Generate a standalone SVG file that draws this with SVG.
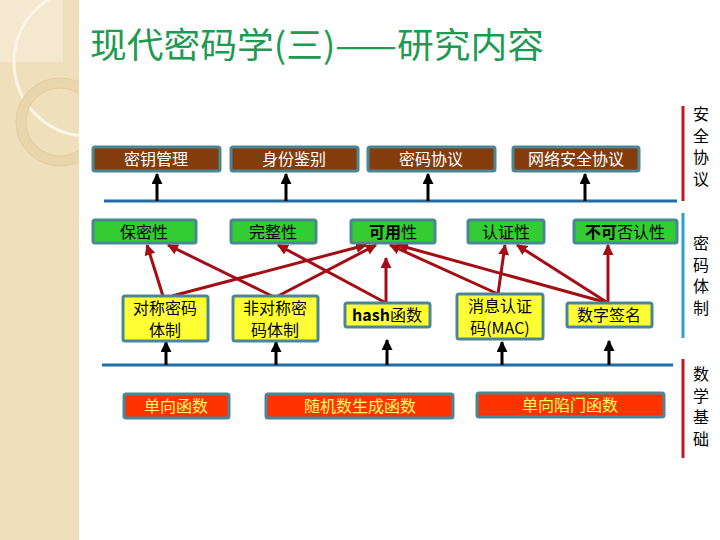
<svg xmlns="http://www.w3.org/2000/svg" width="720" height="540" viewBox="0 0 720 540">
<style>
.t{font-family:"Noto Sans CJK SC","Liberation Sans",sans-serif;font-size:16px;text-anchor:middle}
.box{stroke:#4a8796;stroke-width:3}
.br{fill:#843c0c}
.gr{fill:#33cc33}
.ye{fill:#ffff33}
.rd{fill:#ff3300}
.bl{stroke:#1f6fa6;stroke-width:3;fill:none}
.ka{stroke:#000;stroke-width:3;fill:none;marker-end:url(#ka)}
.ra{stroke:#a50d14;stroke-width:3;fill:none;marker-end:url(#ra)}
.side{font-family:"Noto Sans CJK SC","Liberation Sans",sans-serif;font-size:16px;fill:#000;writing-mode:vertical-rl;letter-spacing:5.5px}
</style>
<defs>
<marker id="ka" markerUnits="userSpaceOnUse" markerWidth="11" markerHeight="11" viewBox="0 0 10 10" refX="9" refY="5" orient="auto"><path d="M0,0 L10,5 L0,10 z" fill="#000"/></marker>
<marker id="ra" markerUnits="userSpaceOnUse" markerWidth="11" markerHeight="11" viewBox="0 0 10 10" refX="9" refY="5" orient="auto"><path d="M0,0 L10,5 L0,10 z" fill="#a50d14"/></marker>
<clipPath id="sc"><rect x="0" y="0" width="79" height="540"/></clipPath>
</defs>
<rect width="720" height="540" fill="#fff"/>
<g id="sidebar" clip-path="url(#sc)">
<rect x="0" y="0" width="79" height="540" fill="#efdfba"/>
<rect x="0" y="0" width="63" height="62" fill="#f4e9d0"/>
<circle cx="88" cy="62" r="74" fill="none" stroke="#fbf5e8" stroke-width="3"/>
<circle cx="60" cy="122" r="39" fill="none" stroke="#ead6ac" stroke-width="10"/>
<circle cx="60" cy="122" r="44" fill="none" stroke="#dcc496" stroke-width="0.7"/>
<circle cx="60" cy="122" r="34" fill="none" stroke="#dcc496" stroke-width="0.7"/>
</g>
<text x="90" y="58" font-family="Noto Sans CJK SC, Liberation Sans, sans-serif" font-size="35" fill="#1e9a52" textLength="454" lengthAdjust="spacingAndGlyphs">现代密码学(三)——研究内容</text>

<g id="connectors">
<line class="bl" x1="104" y1="201" x2="677" y2="201"/>
<line class="bl" x1="102" y1="365" x2="673" y2="365"/>
<line class="ka" x1="157" y1="201" x2="157" y2="174"/>
<line class="ka" x1="286" y1="201" x2="286" y2="174"/>
<line class="ka" x1="428" y1="201" x2="428" y2="174"/>
<line class="ka" x1="585" y1="201" x2="585" y2="174"/>
<line class="ka" x1="166" y1="365" x2="166" y2="342"/>
<line class="ka" x1="276" y1="365" x2="276" y2="342"/>
<line class="ka" x1="387" y1="365" x2="387" y2="340"/>
<line class="ka" x1="502" y1="365" x2="502" y2="342"/>
<line class="ka" x1="609" y1="365" x2="609" y2="341"/>
<line class="ra" x1="163" y1="296" x2="147" y2="245"/>
<line class="ra" x1="172" y1="296" x2="366" y2="245"/>
<line class="ra" x1="272" y1="296" x2="168" y2="245"/>
<line class="ra" x1="278" y1="296" x2="376" y2="245"/>
<line class="ra" x1="386" y1="303" x2="278" y2="245"/>
<line class="ra" x1="386" y1="303" x2="386" y2="258"/>
<line class="ra" x1="498" y1="294" x2="505" y2="245"/>
<line class="ra" x1="498" y1="294" x2="390" y2="245"/>
<line class="ra" x1="608" y1="303" x2="398" y2="245"/>
<line class="ra" x1="608" y1="303" x2="517" y2="245"/>
<line class="ra" x1="608" y1="303" x2="608" y2="245"/>
</g>

<g id="n-keymgmt"><rect class="box br" x="93" y="147" width="127" height="24" rx="2"/><text class="t" x="156" y="165" fill="#fff">密钥管理</text></g>
<g id="n-identity"><rect class="box br" x="231" y="147" width="127" height="24" rx="2"/><text class="t" x="294" y="165" fill="#fff">身份鉴别</text></g>
<g id="n-cryptoproto"><rect class="box br" x="368" y="147" width="127" height="24" rx="2"/><text class="t" x="431" y="165" fill="#fff">密码协议</text></g>
<g id="n-netproto"><rect class="box br" x="513" y="147" width="126" height="24" rx="2"/><text class="t" x="576" y="165" fill="#fff">网络安全协议</text></g>

<g id="n-confid"><rect class="box gr" x="93" y="220" width="103" height="23" rx="2"/><text class="t" x="144" y="238">保密性</text></g>
<g id="n-integrity"><rect class="box gr" x="231" y="220" width="85" height="23" rx="2"/><text class="t" x="273" y="238">完整性</text></g>
<g id="n-avail"><rect class="box gr" x="351" y="220" width="84" height="23" rx="2"/><text class="t" x="393" y="238"><tspan font-weight="bold">可用</tspan>性</text></g>
<g id="n-auth"><rect class="box gr" x="468" y="220" width="76" height="23" rx="2"/><text class="t" x="506" y="238">认证性</text></g>
<g id="n-nonrep"><rect class="box gr" x="574" y="220" width="103" height="23" rx="2"/><text class="t" x="625" y="238"><tspan font-weight="bold">不可</tspan>否认性</text></g>

<g id="n-sym"><rect class="box ye" x="123" y="296" width="85" height="45" rx="2"/><text class="t" x="165" y="314">对称密码</text><text class="t" x="165" y="336">体制</text></g>
<g id="n-asym"><rect class="box ye" x="233" y="296" width="85" height="45" rx="2"/><text class="t" x="275" y="314">非对称密</text><text class="t" x="275" y="336">码体制</text></g>
<g id="n-hash"><rect class="box ye" x="345" y="303" width="85" height="24" rx="2"/><text class="t" x="387" y="321"><tspan font-weight="bold">hash</tspan>函数</text></g>
<g id="n-mac"><rect class="box ye" x="457" y="294" width="86" height="45" rx="2"/><text class="t" x="500" y="312">消息认证</text><text class="t" x="500" y="334">码(MAC)</text></g>
<g id="n-sig"><rect class="box ye" x="567" y="303" width="85" height="24" rx="2"/><text class="t" x="609" y="321">数字签名</text></g>

<g id="n-oneway"><rect class="box rd" x="124" y="394" width="105" height="24" rx="2"/><text class="t" x="176" y="412" fill="#ffff66">单向函数</text></g>
<g id="n-rng"><rect class="box rd" x="266" y="394" width="187" height="24" rx="2"/><text class="t" x="360" y="412" fill="#ffff66">随机数生成函数</text></g>
<g id="n-trapdoor"><rect class="box rd" x="477" y="393" width="187" height="24" rx="2"/><text class="t" x="570" y="411" fill="#ffff66">单向陷门函数</text></g>

<g id="side-labels">
<line x1="683" y1="106" x2="683" y2="201" stroke="#c01820" stroke-width="3"/>
<line x1="683" y1="213" x2="683" y2="338" stroke="#2a9fd0" stroke-width="3"/>
<line x1="683" y1="359" x2="683" y2="458" stroke="#c01820" stroke-width="3"/>
<text class="side" x="701" y="106">安全协议</text>
<text class="side" x="701" y="235">密码体制</text>
<text class="side" x="701" y="366">数学基础</text>
</g>
</svg>
